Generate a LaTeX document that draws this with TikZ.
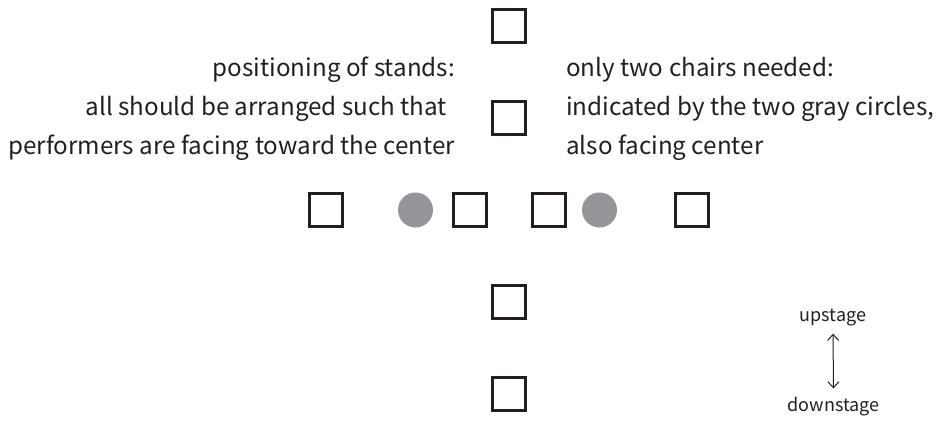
\documentclass[tikz,border=0pt]{standalone}
\usepackage{fontspec}
\setmainfont{Noto Sans CJK JP}
\usetikzlibrary{arrows.meta}
\definecolor{ink}{HTML}{231F20}
\definecolor{chairgray}{HTML}{939598}
\begin{document}
\begin{tikzpicture}[x=1pt,y=-1pt,
  stand/.style={draw=ink,line width=3pt,minimum size=33pt,inner sep=0pt},
  chair/.style={circle,fill=chairgray,minimum size=35pt,inner sep=0pt},
  note/.style={text=ink,font=\fontsize{24.2}{39}\selectfont,inner sep=0pt},
  dirlabel/.style={text=ink,font=\fontsize{18}{20}\selectfont,inner sep=0pt},
  dirarrow/.style={draw=ink,line width=1pt,{Straight Barb[length=6pt,width=11pt]}-{Straight Barb[length=6pt,width=11pt]}}]
\useasboundingbox (0,0) rectangle (937,423);
% vertical column of stands
\node[stand] (s1) at (509,26) {};
\node[stand] (s2) at (509,118) {};
\node[stand] (s4) at (509,302) {};
\node[stand] (s5) at (509,394) {};
% horizontal row
\node[stand] (h1) at (325.5,210) {};
\node[chair] (c1) at (415.5,210) {};
\node[stand] (h2) at (469.5,210) {};
\node[stand] (h3) at (549,210) {};
\node[chair] (c2) at (599.5,210) {};
\node[stand] (h4) at (692,210) {};
% notes
\node[note,anchor=base east] (l1) at (455,76) {positioning of stands:};
\node[note,anchor=base east] (l2) at (447,115) {all should be arranged such that};
\node[note,anchor=base east] (l3) at (455,154) {performers are facing toward the center};
\node[note,anchor=base west] (r1) at (566,76) {only two chairs needed:};
\node[note,anchor=base west] (r2) at (566,115) {indicated by the two gray circles,};
\node[note,anchor=base west] (r3) at (566,154) {also facing center};
% direction indicator
\node[dirlabel,anchor=base] (up) at (833,321) {upstage};
\node[dirlabel,anchor=base] (down) at (833.5,411) {downstage};
\draw[dirarrow,shorten <=8pt,shorten >=8pt] (up.south) -- (down.north);
\end{tikzpicture}
\end{document}
